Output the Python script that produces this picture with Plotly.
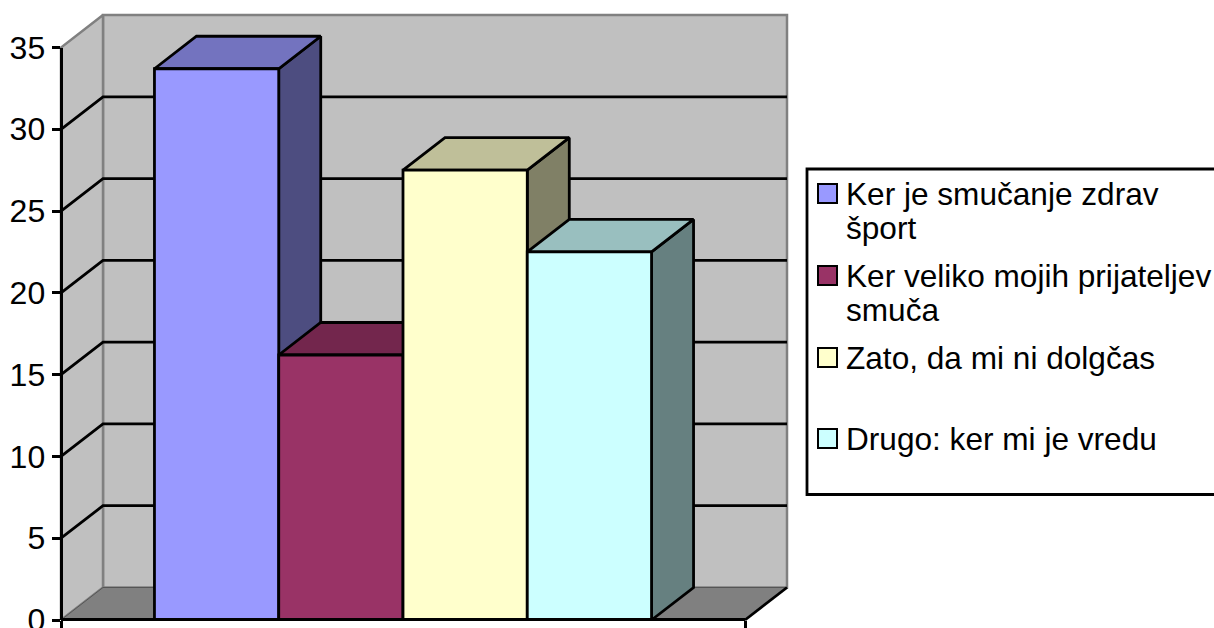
import plotly.graph_objects as go

# Survey answers, one column per answer
labels = ["Ker je smučanje zdrav\nšport", "Ker veliko mojih prijateljev\nsmuča",
          "Zato, da mi ni dolgčas", "Drugo: ker mi je vredu"]
values = [33.7, 16.2, 27.5, 22.5]
positions = [0, 1, 2, 3]
front_colors = ["#9999FF", "#993366", "#FFFFCC", "#CCFFFF"]
top_colors = ["#7373BF", "#73264D", "#BFBF99", "#99BFBF"]
side_colors = ["#4D4D80", "#4D1A33", "#808066", "#668080"]
y_ticks = [0, 5, 10, 15, 20, 25, 30, 35]

WIDTH, HEIGHT = 1214, 628
FONT = "Liberation Sans, Arial, sans-serif"
TICK_SIZE = 32
LEGEND_SIZE = 31.6

# Oblique projection: how far the rear plane shifts, in axis units
DEPTH_X = 0.338
DEPTH_Y = 1.987
X0, X1 = -1.252, 4.252
Y0, Y1 = 0, 35
HALF = 0.5
EDGE = 2.8

# Front plane of the chart on the page
PLANE_LEFT, PLANE_RIGHT = 61, 745
PLANE_TOP, PLANE_BOTTOM = 47.5, 620
x_per_px = (X1 - X0) / (PLANE_RIGHT - PLANE_LEFT)
y_per_px = (Y1 - Y0) / (PLANE_BOTTOM - PLANE_TOP)

# The faces live on a page-sized hidden subplot sharing the same scale
page_x_range = [X0 - PLANE_LEFT * x_per_px, X1 + (WIDTH - PLANE_RIGHT) * x_per_px]
page_y_range = [Y0 - (HEIGHT - PLANE_BOTTOM) * y_per_px, Y1 + PLANE_TOP * y_per_px]


def polygon(fig, xs, ys, fill, line_color="#000000", line_width=EDGE):
    fig.add_trace(go.Scatter(
        x=xs + xs[:1], y=ys + ys[:1], mode="lines", fill="toself", fillcolor=fill,
        line=dict(color=line_color, width=line_width),
        hoverinfo="skip", showlegend=False))


fig = go.Figure()

# Walls and floor
polygon(fig, [X0 + DEPTH_X, X1 + DEPTH_X, X1 + DEPTH_X, X0 + DEPTH_X],
        [Y0 + DEPTH_Y, Y0 + DEPTH_Y, Y1 + DEPTH_Y, Y1 + DEPTH_Y], "#C0C0C0", "#808080", 2.5)
polygon(fig, [X0, X0 + DEPTH_X, X0 + DEPTH_X, X0],
        [Y0, Y0 + DEPTH_Y, Y1 + DEPTH_Y, Y1], "#C0C0C0", "#808080", 2.5)
polygon(fig, [X0, X1, X1 + DEPTH_X, X0 + DEPTH_X],
        [Y0, Y0, Y0 + DEPTH_Y, Y0 + DEPTH_Y], "#808080", "#555555", 1)

# Front edge on the right of the floor
fig.add_trace(go.Scatter(
    x=[X1, X1 + DEPTH_X], y=[Y0, Y0 + DEPTH_Y], mode="lines",
    line=dict(color="#000000", width=EDGE), hoverinfo="skip", showlegend=False))

# Gridlines run along the left wall and across the back wall
grid_x, grid_y = [], []
for t in y_ticks:
    if 0 < t < Y1:
        grid_x += [X0, X0 + DEPTH_X, X1 + DEPTH_X, None]
        grid_y += [t, t + DEPTH_Y, t + DEPTH_Y, None]
fig.add_trace(go.Scatter(
    x=grid_x, y=grid_y, mode="lines", line=dict(color="#000000", width=EDGE),
    hoverinfo="skip", showlegend=False))

# Side and top faces, painted left to right so nearer columns cover earlier ones
for p, v, top, side in zip(positions, values, top_colors, side_colors):
    right = p + HALF
    left = p - HALF
    polygon(fig, [right, right + DEPTH_X, right + DEPTH_X, right],
            [0, DEPTH_Y, v + DEPTH_Y, v], side)
    polygon(fig, [left, right, right + DEPTH_X, left + DEPTH_X],
            [v, v, v + DEPTH_Y, v + DEPTH_Y], top)

# Front faces use the visible axes, whose subplot is drawn above the faces
fig.add_trace(go.Bar(
    x=positions, y=values, width=1, xaxis="x2", yaxis="y2",
    marker=dict(color=front_colors, line=dict(color="#000000", width=EDGE)),
    cliponaxis=False, hoverinfo="skip", showlegend=False))


def px_x(px):
    return px / WIDTH


def px_y(px):
    return 1 - px / HEIGHT


# Hand-built legend box: it runs off the right edge of the page
shapes = [dict(type="rect", xref="paper", yref="paper",
               x0=px_x(807), x1=px_x(1240), y0=px_y(169), y1=px_y(494.5),
               line=dict(color="#000000", width=EDGE), fillcolor="#FFFFFF", layer="below")]
annotations = []
legend_rows = [193.5, 275.5, 357.5, 438.5]
LINE_STEP = 34.5
for row, label, color in zip(legend_rows, labels, front_colors):
    shapes.append(dict(type="rect", xref="paper", yref="paper",
                       x0=px_x(818), x1=px_x(837), y0=px_y(row - 9.5), y1=px_y(row + 9.5),
                       line=dict(color="#000000", width=2), fillcolor=color))
    for i, text in enumerate(label.split("\n")):
        annotations.append(dict(
            xref="paper", yref="paper", x=px_x(845), y=px_y(row + i * LINE_STEP),
            xanchor="left", yanchor="middle", text=text, showarrow=False, borderpad=0,
            font=dict(family=FONT, size=LEGEND_SIZE, color="#000000")))

fig.update_layout(
    width=WIDTH, height=HEIGHT,
    margin=dict(l=0, r=0, t=0, b=0, autoexpand=False),
    paper_bgcolor="#FFFFFF", plot_bgcolor="rgba(0,0,0,0)",
    showlegend=False,
    shapes=shapes, annotations=annotations,
    font=dict(family=FONT, color="#000000"),
    xaxis=dict(domain=[0, 1], range=page_x_range, visible=False, fixedrange=True),
    yaxis=dict(domain=[0, 1], range=page_y_range, visible=False, fixedrange=True),
    xaxis2=dict(domain=[px_x(PLANE_LEFT), px_x(PLANE_RIGHT)], range=[X0, X1],
                anchor="free", position=px_y(PLANE_BOTTOM - EDGE / 2),
                tickvals=[X0, X1], ticktext=["", ""],
                ticks="outside", ticklen=8, tickwidth=EDGE, tickcolor="#000000",
                showline=True, linecolor="#000000", linewidth=EDGE,
                showgrid=False, zeroline=False, fixedrange=True),
    yaxis2=dict(domain=[px_y(PLANE_BOTTOM), px_y(PLANE_TOP)], range=[Y0, Y1],
                anchor="free", position=px_x(PLANE_LEFT - 0.5),
                tickvals=y_ticks, ticks="outside", ticklen=8, tickwidth=EDGE,
                tickcolor="#000000", ticklabeloverflow="allow", ticklabelstandoff=0,
                showline=True, linecolor="#000000", linewidth=EDGE,
                showgrid=False, zeroline=False, fixedrange=True,
                tickfont=dict(family=FONT, size=TICK_SIZE, color="#000000")),
)

fig.write_html("out.html", config=dict(displayModeBar=False))
